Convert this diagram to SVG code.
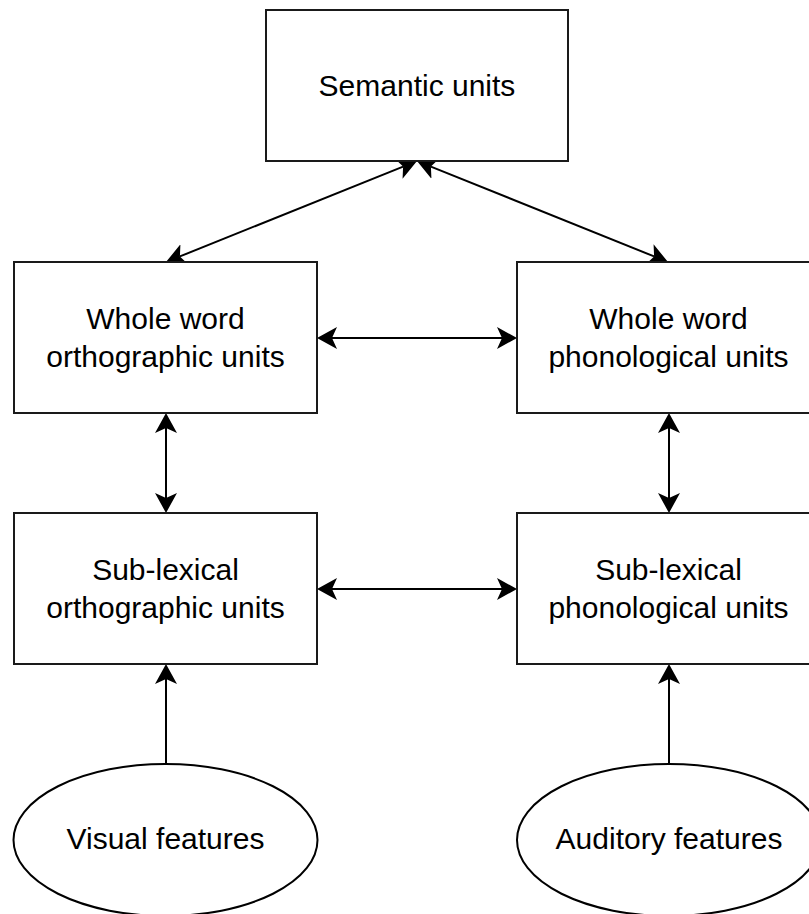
<svg xmlns="http://www.w3.org/2000/svg" width="809" height="914" viewBox="0 0 809 914">
<style>
.box{fill:#fff;stroke:#1a1a1a;stroke-width:2}
.ell{fill:#fff;stroke:#000;stroke-width:2}
.lbl{font-family:"Liberation Sans",Arial,sans-serif;font-size:30px;fill:#000;text-anchor:middle}
.conn{stroke:#000;stroke-width:2;fill:none}
</style>
<defs>
<marker id="arr" markerUnits="userSpaceOnUse" markerWidth="22" markerHeight="24" viewBox="0 -12 22 24" refX="5" refY="0" orient="auto-start-reverse">
<path d="M0,-11 L20,0 L0,11 L5,0 Z" fill="#000"/>
</marker>
</defs>
<rect width="809" height="914" fill="#fff"/>
<g id="connectors">
<line class="conn" x1="403.1" y1="166.6" x2="179.9" y2="256.4" marker-start="url(#arr)" marker-end="url(#arr)"/>
<line class="conn" x1="430.9" y1="166.6" x2="654.1" y2="256.4" marker-start="url(#arr)" marker-end="url(#arr)"/>
<line class="conn" x1="332" y1="338" x2="502" y2="338" marker-start="url(#arr)" marker-end="url(#arr)"/>
<line class="conn" x1="332" y1="589" x2="502" y2="589" marker-start="url(#arr)" marker-end="url(#arr)"/>
<line class="conn" x1="166" y1="428" x2="166" y2="498" marker-start="url(#arr)" marker-end="url(#arr)"/>
<line class="conn" x1="669" y1="428" x2="669" y2="498" marker-start="url(#arr)" marker-end="url(#arr)"/>
<line class="conn" x1="166" y1="764" x2="166" y2="679" marker-end="url(#arr)"/>
<line class="conn" x1="669" y1="764" x2="669" y2="679" marker-end="url(#arr)"/>
</g>
<g id="semantic">
<rect class="box" x="266" y="10" width="302" height="151"/>
<text class="lbl" x="417" y="96">Semantic units</text>
</g>
<g id="ww-orth">
<rect class="box" x="14" y="262" width="303" height="151"/>
<text class="lbl" x="165.5" y="329">Whole word</text>
<text class="lbl" x="165.5" y="367">orthographic units</text>
</g>
<g id="ww-phon">
<rect class="box" x="517" y="262" width="303" height="151"/>
<text class="lbl" x="668.5" y="329">Whole word</text>
<text class="lbl" x="668.5" y="367">phonological units</text>
</g>
<g id="sl-orth">
<rect class="box" x="14" y="513" width="303" height="151"/>
<text class="lbl" x="165.5" y="580">Sub-lexical</text>
<text class="lbl" x="165.5" y="618">orthographic units</text>
</g>
<g id="sl-phon">
<rect class="box" x="517" y="513" width="303" height="151"/>
<text class="lbl" x="668.5" y="580">Sub-lexical</text>
<text class="lbl" x="668.5" y="618">phonological units</text>
</g>
<g id="visual">
<ellipse class="ell" cx="165.5" cy="840" rx="152" ry="76"/>
<text class="lbl" x="165.5" y="849">Visual features</text>
</g>
<g id="auditory">
<ellipse class="ell" cx="669" cy="840" rx="152" ry="76"/>
<text class="lbl" x="669" y="849">Auditory features</text>
</g>
</svg>
